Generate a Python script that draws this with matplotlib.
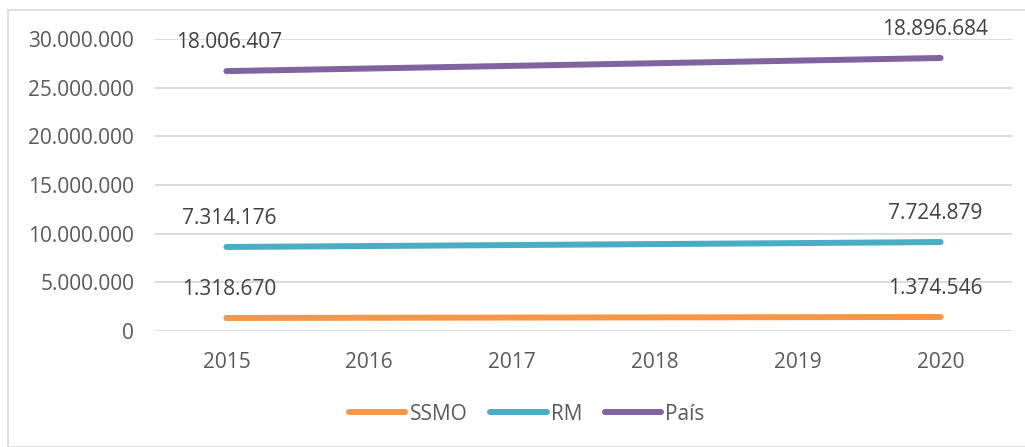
import matplotlib.pyplot as plt
from matplotlib.patches import Rectangle
from matplotlib.ticker import FuncFormatter

years = [2015, 2016, 2017, 2018, 2019, 2020]
ssmo = [1340000, 1360000, 1380000, 1400000, 1420000, 1440000]
rm = [8630000, 8730000, 8830000, 8930000, 9030000, 9140000]
pais = [26700000, 26970000, 27240000, 27510000, 27780000, 28050000]

# value labels as printed on the chart (first and last year)
lab_ssmo = ['1.318.670', '1.374.546']
lab_rm = ['7.314.176', '7.724.879']
lab_pais = ['18.006.407', '18.896.684']

plt.rcParams['font.family'] = ['Open Sans', 'DejaVu Sans']
fs = 15

fig = plt.figure(figsize=(10.25, 4.47), dpi=100)
fig.patches.append(Rectangle((8/1025, 0), 1.2, 1 - 10/447, transform=fig.transFigure,
                             fill=False, edgecolor='#D9D9D9', linewidth=1.2))
ax = fig.add_axes([155/1025, 1 - 331/447, 857/1025, 292/447])

x = list(range(len(years)))
series = [(ssmo, 'SSMO', '#F79646', lab_ssmo),
          (rm, 'RM', '#4BACC6', lab_rm),
          (pais, 'País', '#8064A2', lab_pais)]
for vals, name, col, labs in series:
    ax.plot(x, vals, color=col, lw=4.3, solid_capstyle='round', label=name)
    ax.annotate(labs[0], (x[0], vals[0]), xytext=(2, 13), textcoords='offset points',
                ha='center', va='bottom', fontsize=fs, color='#404040')
    ax.annotate(labs[1], (x[-1], vals[-1]), xytext=(-4, 13), textcoords='offset points',
                ha='center', va='bottom', fontsize=fs, color='#404040')

ax.set_xlim(-0.5, len(years) - 0.5)
ax.set_ylim(0, 30000000)
ax.set_yticks(range(0, 30000001, 5000000))
ax.yaxis.set_major_formatter(FuncFormatter(lambda v, p: f'{int(v):,}'.replace(',', '.')))
ax.set_xticks(x)
ax.set_xticklabels([str(y) for y in years])
ax.tick_params(length=0, labelsize=fs, labelcolor='#595959')
ax.tick_params(axis='x', pad=15)
ax.tick_params(axis='y', pad=15)
ax.grid(axis='y', color='#D9D9D9', lw=1.3)
ax.set_axisbelow(True)
for s in ax.spines.values():
    s.set_visible(False)

fig.legend(loc='center', bbox_to_anchor=(527/1025, 1 - 414/447), ncol=3, frameon=False,
           fontsize=fs, labelcolor='#595959', handlelength=2.7, handletextpad=0.2,
           columnspacing=1.1)

fig.savefig('out.png', dpi=100)
